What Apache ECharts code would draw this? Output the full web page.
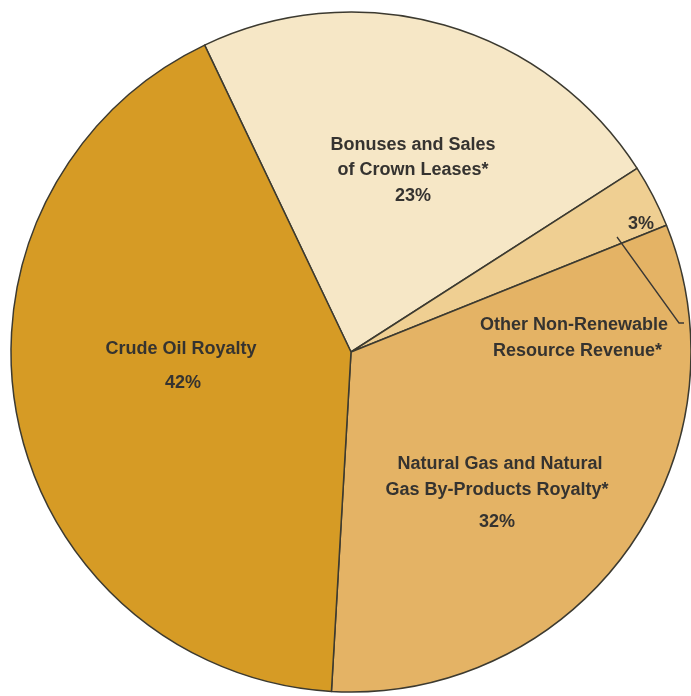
<!DOCTYPE html>
<html><head><meta charset="utf-8">
<script src="https://cdn.jsdelivr.net/npm/echarts@6/dist/echarts.min.js"></script>
<style>html,body{margin:0;padding:0;background:#fff}#c{width:691px;height:696px}</style>
</head><body><div id="c"></div>
<script>
var categories = ['Bonuses and Sales of Crown Leases*', 'Other Non-Renewable Resource Revenue*', 'Natural Gas and Natural Gas By-Products Royalty*', 'Crude Oil Royalty'];
var values = [23, 3, 32, 42];
var colors = ['#f6e7c6', '#efcf92', '#e4b365', '#d69b25'];

var chart = echarts.init(document.getElementById('c'));
var font = '"Liberation Sans", Arial, Helvetica, sans-serif';
function txt(x, y, s, align) {
  return {type: 'text', x: x, y: y, z: 10, style: {text: s, fill: '#353330', font: 'bold 18px ' + font, textAlign: align || 'center', textVerticalAlign: 'middle'}};
}
chart.setOption({
  backgroundColor: '#ffffff',
  animation: false,
  series: [{
    type: 'pie',
    center: [351, 352],
    radius: [0, 340],
    startAngle: 115.5,
    clockwise: true,
    label: {show: false},
    labelLine: {show: false},
    itemStyle: {borderColor: '#3c3a30', borderWidth: 1.5},
    emphasis: {disabled: true},
    data: categories.map(function (c, i) { return {name: c, value: values[i], itemStyle: {color: colors[i]}}; })
  }],
  graphic: [
    txt(181, 349, 'Crude Oil Royalty'),
    txt(183, 383, values[3] + '%'),
    txt(413, 145, 'Bonuses and Sales'),
    txt(413, 170, 'of Crown Leases*'),
    txt(413, 196, values[0] + '%'),
    txt(641, 224, values[1] + '%'),
    txt(668, 325, 'Other Non-Renewable', 'right'),
    txt(662, 351, 'Resource Revenue*', 'right'),
    txt(500, 464, 'Natural Gas and Natural'),
    txt(497, 490, 'Gas By-Products Royalty*'),
    txt(497, 522, values[2] + '%'),
    {type: 'polyline', z: 10, shape: {points: [[617, 237], [679, 323], [684, 323]]}, style: {stroke: '#3a3835', lineWidth: 1.3, fill: null}}
  ]
});
</script></body></html>
